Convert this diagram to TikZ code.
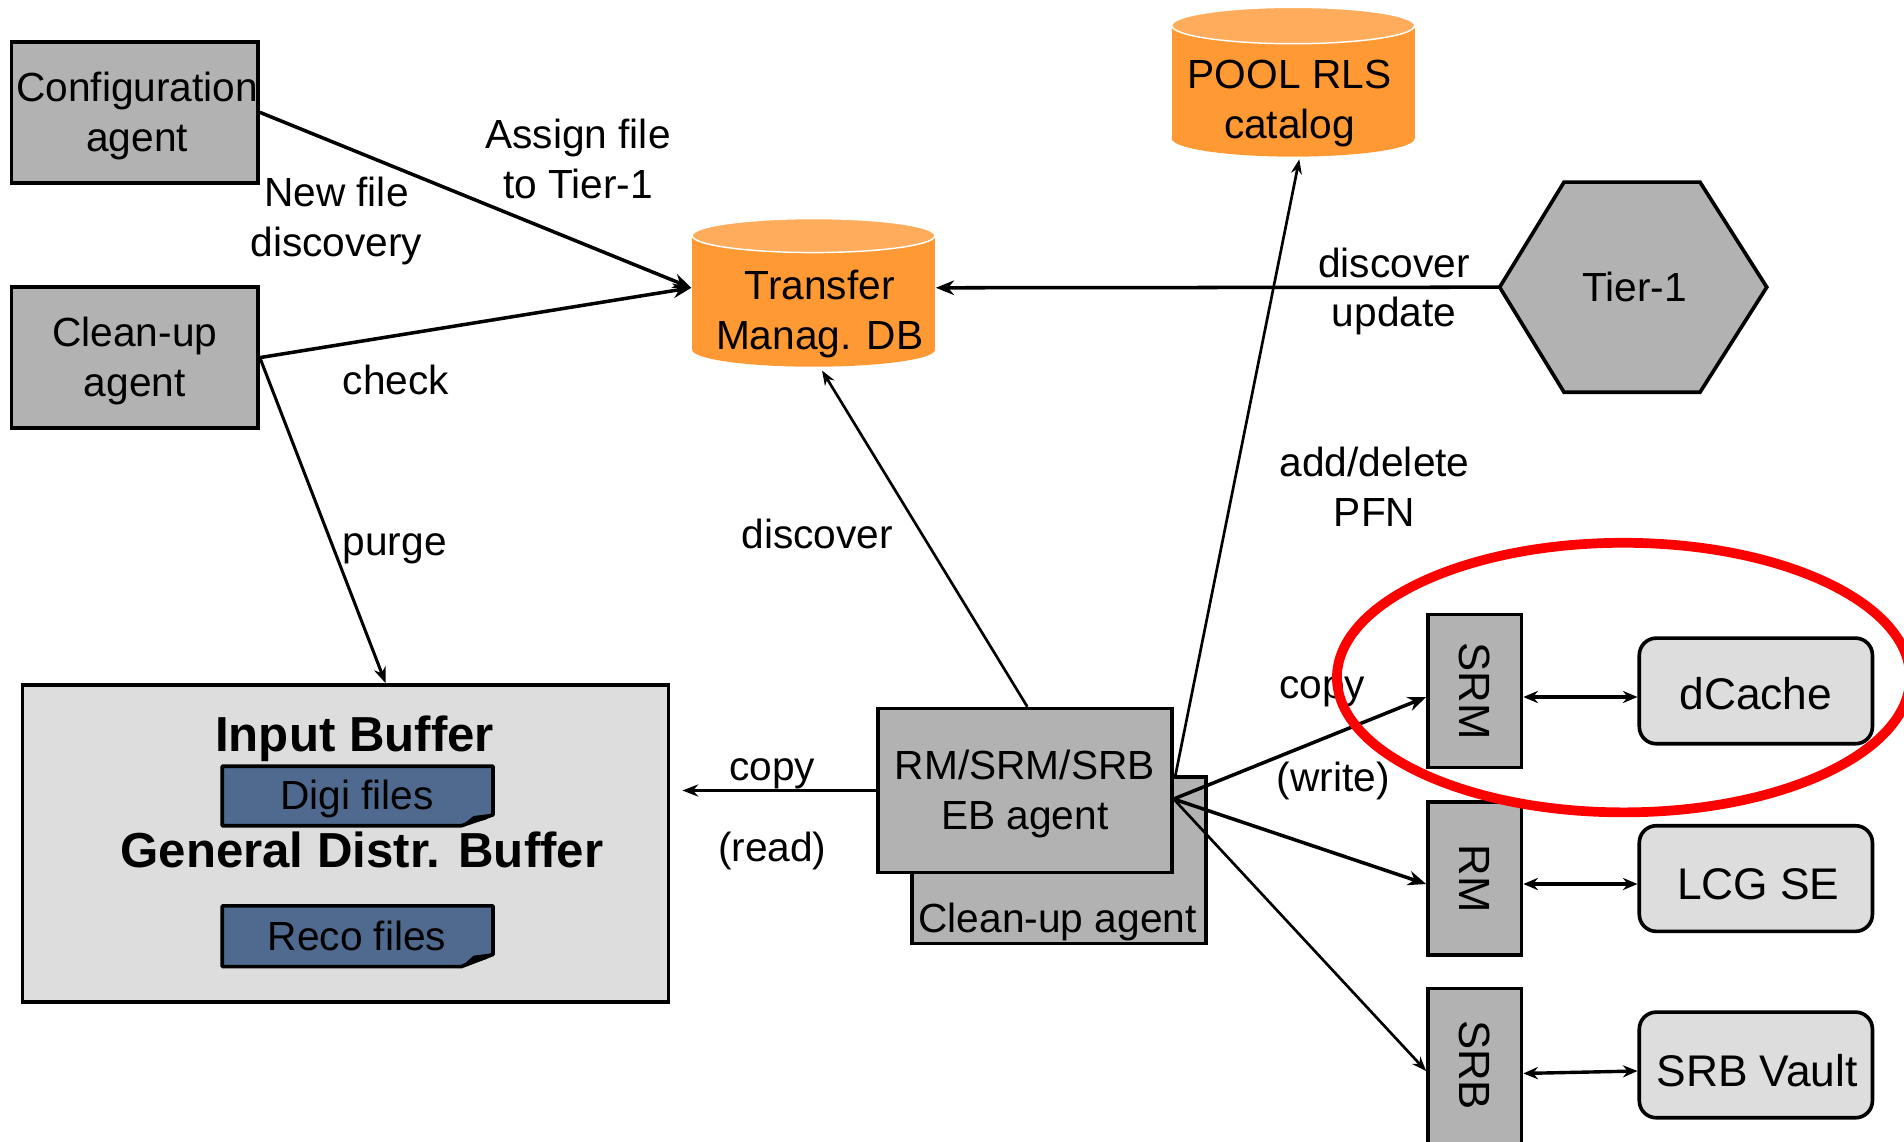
\documentclass[tikz,border=0pt]{standalone}
\usepackage{fontspec}
\setmainfont{Liberation Sans}
\usetikzlibrary{arrows.meta}
\definecolor{boxgray}{HTML}{B2B2B2}
\definecolor{palegray}{HTML}{DDDDDD}
\definecolor{dborange}{HTML}{FF9933}
\definecolor{dbtop}{HTML}{FFAD5C}
\definecolor{filesblue}{HTML}{4F6A8E}
\definecolor{ringred}{HTML}{FF0000}
\begin{document}
\begin{tikzpicture}[x=1pt,y=-1pt,
  every node/.style={font=\fontsize{33.5pt}{41pt}\selectfont, inner sep=0pt, align=center},
  agentbox/.style={draw=black, line width=3pt, fill=boxgray},
  storebox/.style={draw=black, line width=3pt, fill=palegray, rounded corners=14pt,
    minimum width=192pt, minimum height=87pt},
  storetext/.style={font=\fontsize{36.5pt}{44pt}\selectfont},
  ifacebox/.style={draw=black, line width=3pt, fill=boxgray, minimum width=77pt, minimum height=126pt},
  ifacetext/.style={rotate=-90, font=\fontsize{36pt}{44pt}\selectfont},
  boldtitle/.style={font=\fontsize{40.5pt}{48pt}\selectfont\bfseries},
  filebox/.style={fill=filesblue, draw=black, line width=3pt, line join=round},
  thickarrow/.style={draw=black, line width=2.9pt, -{Stealth[length=15pt,width=12pt]}},
  medarrow/.style={draw=black, line width=2.5pt, -{Stealth[length=13pt,width=10pt]}},
  thinarrow/.style={draw=black, line width=2.2pt, -{Stealth[length=12pt,width=9pt]}},
  dblarrow/.style={draw=black, line width=2.8pt, {Stealth[length=12pt,width=10pt]}-{Stealth[length=12pt,width=10pt]}}
]
\useasboundingbox (0,0) rectangle (1568,940);

% ---------- cylinders ----------
\fill[dborange] (570,194) rectangle (770,288);
\fill[dborange] (670,288) ellipse [x radius=100, y radius=14];
\filldraw[fill=dbtop, draw=white, line width=1.2pt] (670,194) ellipse [x radius=100, y radius=14];
\node[minimum width=201pt, minimum height=130pt] (db) at (670,237) {};
\node (dbtext) at (675,258.5) {Transfer\\Manag. DB};

\fill[dborange] (965,21) rectangle (1165,114);
\fill[dborange] (1065,114) ellipse [x radius=100, y radius=15];
\filldraw[fill=dbtop, draw=white, line width=1.2pt] (1065,21) ellipse [x radius=100, y radius=15];
\node[minimum width=201pt, minimum height=124pt] (pool) at (1065,67) {};
\node (pooltext) at (1062,85.5) {POOL RLS\\catalog};

% ---------- Tier-1 ----------
\filldraw[fill=boxgray, draw=black, line width=3pt, line join=miter]
  (1235,236.5) -- (1288,150) -- (1400,150) -- (1455,236.5) -- (1400,323) -- (1288,323) -- cycle;
\node[minimum width=220pt, minimum height=173pt] (tier) at (1346,236.5) {Tier-1};

% ---------- agents ----------
\node[agentbox, minimum width=203pt, minimum height=116pt] (config) at (111,92.5) {};
\node (configtext) at (113,95.5) {Configuration\\agent};
\node[agentbox, minimum width=203pt, minimum height=116pt] (cleanup) at (111,294.5) {};
\node (cleanuptext) at (111,297.5) {Clean-up\\agent};

% ---------- buffer ----------
\node[draw=black, line width=3pt, fill=palegray, minimum width=532pt, minimum height=261pt] (buffer) at (284.5,694.5) {};
\node[boldtitle] (ibtitle) at (292,608) {Input Buffer};
\filldraw[filebox] (183,631) -- (406,631) -- (406,671) -- (380,680) -- (183,680) -- cycle;
\fill[black] (406,670) -- (390,672) -- (380,680) -- (400,675) -- cycle;
\node (digi) at (294,658) {Digi files};
\node[boldtitle] (gdb) at (298,700) {General Distr. Buffer};
\filldraw[filebox] (183,746) -- (406,746) -- (406,786) -- (380,796) -- (183,796) -- cycle;
\fill[black] (406,785) -- (390,787) -- (380,796) -- (400,790) -- cycle;
\node (reco) at (294,771) {Reco files};

% ---------- EB agent ----------
\node[agentbox, minimum width=242pt, minimum height=137pt] (cleanupb) at (872,708.5) {};
\node (cleanupbtext) at (871,759) {Clean-up agent};
\node[agentbox, minimum width=242pt, minimum height=135pt] (eb) at (844,651) {};
\node (ebtext) at (844,654) {RM/SRM/SRB\\EB agent};

% ---------- interfaces & storage ----------
\node[ifacebox] (srm) at (1214.5,569) {};
\node[ifacetext] (srmtext) at (srm) {SRM};
\node[ifacebox] (rm) at (1214.5,723.5) {};
\node[ifacetext] (rmtext) at (rm) {RM};
\node[ifacebox, minimum height=130pt] (srb) at (1214.5,879) {};
\node[ifacetext] (srbtext) at (1214.5,877) {SRB};

\node[storebox] (dcache) at (1446,569) {};
\node[storetext] (dcachetext) at (1446,571) {dCache};
\node[storebox] (lcg) at (1446,723.5) {};
\node[storetext] (lcgtext) at (1448,728) {LCG SE};
\node[storebox] (vault) at (1446,877) {};
\node[storetext] (vaulttext) at (1447,882) {SRB Vault};

% ---------- connectors ----------
\draw[thickarrow] (config.east) -- (db.west);
\draw[thickarrow] (cleanup.east) -- (db.west);
\draw[medarrow] (cleanup.east) -- ([xshift=33pt]buffer.north);
\draw[thickarrow] (tier.west) -- (db.east);
\draw[thinarrow] ([xshift=2pt]eb.north) -- ([xshift=7pt,yshift=-3pt]db.south);
\draw[thinarrow] ([xshift=1pt,yshift=10pt]eb.east) -- ([xshift=5pt,yshift=-2pt]pool.south);
\draw[medarrow, shorten >=10pt] (eb.west) -- (eb.west -| buffer.east);
\draw[thickarrow] ([yshift=-7pt]eb.east) -- ([yshift=-5pt]srm.west);
\draw[thickarrow] ([yshift=-7pt]eb.east) -- ([yshift=-4.5pt]rm.west);
\draw[thinarrow] ([yshift=-7pt]eb.east) -- ([yshift=-3pt]srb.west);
\draw[dblarrow] ([yshift=-5pt]srm.east) -- ([yshift=-5pt]dcache.west);
\draw[dblarrow] ([yshift=-4.5pt]rm.east) -- ([yshift=-4.5pt]lcg.west);
\draw[dblarrow] ([yshift=-5pt]srb.east) -- ([yshift=-5pt]vault.west);

% ---------- labels ----------
\node (lblassign) at (476,131) {Assign file\\to Tier-1};
\node (lblnew) at (277,182) {New file\\discovery};
\node (lblcheck) at (326,313) {check};
\node (lblpurge) at (325,452) {purge};
\node (lbldisc) at (673,440) {discover};
\node (lbldiscupd) at (1148,240) {discover\\update};
\node (lbladd) at (1132,401) {add/delete\\PFN};
\node (lblcopyw) at (1089,570) {copy};
\node (lblwrite) at (1098,643) {(write)};
\node (lblcopyr) at (636,637) {copy};
\node (lblread) at (636,701) {(read)};

% ---------- red ring ----------
\draw[ringred, line width=8pt] (1337,558) ellipse [x radius=236, y radius=111];
\end{tikzpicture}
\end{document}
